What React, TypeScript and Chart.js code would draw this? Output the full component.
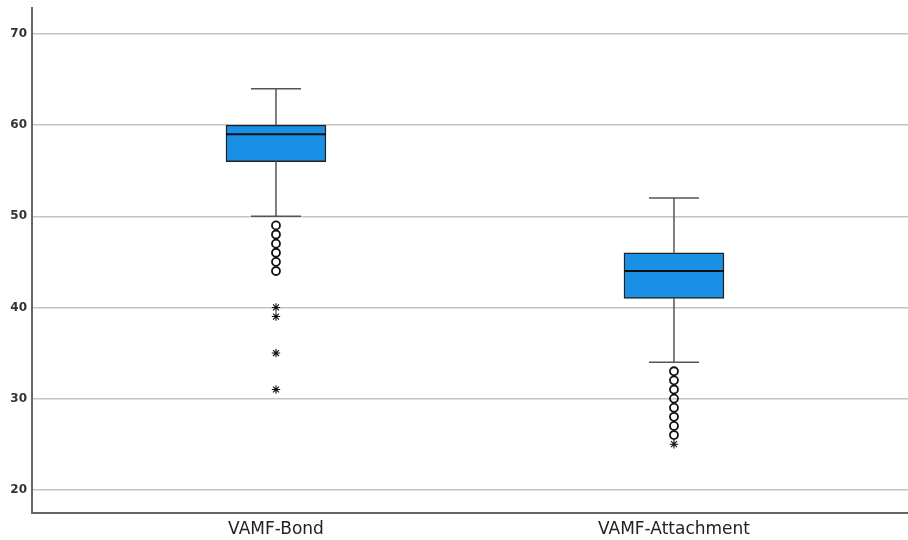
import React, { useEffect, useRef } from "react";
import { Chart, registerables } from "chart.js";

Chart.register(...registerables);

const categories = ["VAMF-Bond", "VAMF-Attachment"];
const categoryPositions = [1, 2];
const whiskerLow = [50, 34];
const q1 = [56, 41];
const medians = [59, 44];
const q3 = [60, 46];
const whiskerHigh = [64, 52];
const circleOutliers = [
  [49, 48, 47, 46, 45, 44],
  [33, 32, 31, 30, 29, 28, 27, 26],
];
const starOutliers = [
  [40, 39, 35, 31],
  [25],
];
const yTicks = [20, 30, 40, 50, 60, 70];

const boxPlugin = {
  id: "boxParts",
  afterDatasetsDraw(chart: any) {
    const meta = chart.getDatasetMeta(0);
    const yScale = chart.scales.y;
    const ctx = chart.ctx;
    ctx.save();
    meta.data.forEach((bar: any, i: number) => {
      const x = bar.x;
      const half = bar.width / 2;
      const capHalf = half / 2;
      const yHi = yScale.getPixelForValue(whiskerHigh[i]);
      const yQ3 = yScale.getPixelForValue(q3[i]);
      const yQ1 = yScale.getPixelForValue(q1[i]);
      const yLo = yScale.getPixelForValue(whiskerLow[i]);
      const yMed = yScale.getPixelForValue(medians[i]);
      ctx.strokeStyle = "#555555";
      ctx.lineWidth = 1.5;
      ctx.beginPath();
      ctx.moveTo(x, yHi);
      ctx.lineTo(x, yQ3);
      ctx.moveTo(x, yQ1);
      ctx.lineTo(x, yLo);
      ctx.moveTo(x - capHalf, yHi);
      ctx.lineTo(x + capHalf, yHi);
      ctx.moveTo(x - capHalf, yLo);
      ctx.lineTo(x + capHalf, yLo);
      ctx.stroke();
      ctx.strokeStyle = "#111111";
      ctx.lineWidth = 2.2;
      ctx.beginPath();
      ctx.moveTo(x - half, yMed);
      ctx.lineTo(x + half, yMed);
      ctx.stroke();
    });
    ctx.restore();
  },
};

export default function App() {
  const canvasRef = useRef<HTMLCanvasElement | null>(null);

  useEffect(() => {
    document.body.style.margin = "0";
    const canvas = canvasRef.current;
    if (!canvas) return;

    const circleData: any[] = [];
    const starData: any[] = [];
    categoryPositions.forEach((pos, i) => {
      circleOutliers[i].forEach((v) => circleData.push({ x: pos, y: v }));
      starOutliers[i].forEach((v) => starData.push({ x: pos, y: v }));
    });

    const chart = new Chart(canvas, {
      type: "bar",
      data: {
        datasets: [
          {
            type: "bar",
            data: categoryPositions.map((pos, i) => ({ x: pos, y: [q1[i], q3[i]] })) as any,
            backgroundColor: "#1a8fe6",
            borderColor: "#222222",
            borderWidth: 1.5,
            borderSkipped: false,
            barThickness: 100,
            order: 2,
          } as any,
          {
            type: "scatter",
            data: circleData,
            pointStyle: "circle",
            pointRadius: 4,
            pointBorderWidth: 1.8,
            pointBorderColor: "#111111",
            pointBackgroundColor: "rgba(255,255,255,0)",
            order: 1,
          } as any,
          {
            type: "scatter",
            data: starData,
            pointStyle: "star",
            pointRadius: 4.2,
            pointBorderWidth: 1.1,
            pointBorderColor: "#111111",
            order: 1,
          } as any,
        ],
      },
      options: {
        animation: false,
        responsive: false,
        maintainAspectRatio: false,
        layout: { autoPadding: false, padding: { top: 8, right: 0, left: 0, bottom: 0 } },
        plugins: {
          legend: { display: false },
          tooltip: { enabled: false },
        },
        scales: {
          x: {
            type: "linear",
            offset: false,
            bounds: "data",
            min: 0.387,
            max: 2.588,
            afterDataLimits: (scale: any) => {
              scale.min = 0.387;
              scale.max = 2.588;
            },
            afterBuildTicks: (scale: any) => {
              scale.ticks = categoryPositions.map((v) => ({ value: v }));
            },
            afterFit: (scale: any) => {
              scale.height = 27;
              scale.paddingRight = 0;
              scale.paddingLeft = 0;
            },
            ticks: {
              callback: (v: any) => {
                const idx = categoryPositions.indexOf(Number(v));
                return idx >= 0 ? categories[idx] : "";
              },
              font: { family: "DejaVu Sans", size: 17 },
              color: "#222222",
              padding: 6,
              maxRotation: 0,
              autoSkip: false,
            },
            grid: { display: false, drawTicks: false, offset: false },
            border: { color: "#666666", width: 2 },
          },
          y: {
            type: "linear",
            min: 17.45,
            max: 72.85,
            afterBuildTicks: (scale: any) => {
              scale.ticks = yTicks.map((v) => ({ value: v }));
            },
            afterFit: (scale: any) => {
              scale.width = 32;
              scale.paddingTop = 0;
              scale.paddingBottom = 0;
            },
            ticks: {
              font: { family: "DejaVu Sans", size: 12, weight: "bold" },
              color: "#333333",
              padding: 5,
            },
            grid: { color: "#c4c4c4", lineWidth: 1.5, drawTicks: false },
            border: { color: "#666666", width: 2 },
          },
        },
      },
      plugins: [boxPlugin],
    } as any);

    return () => chart.destroy();
  }, []);

  return (
    <div style={{ width: 908, height: 540, background: "#ffffff" }}>
      <canvas ref={canvasRef} width={908} height={540} style={{ display: "block" }} />
    </div>
  );
}
